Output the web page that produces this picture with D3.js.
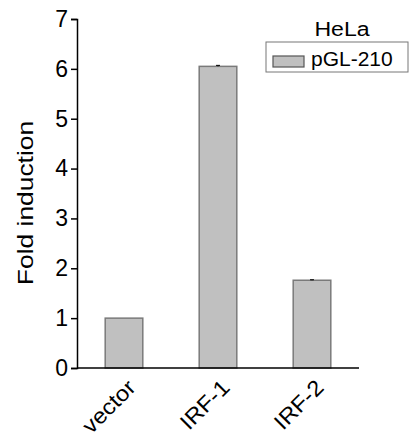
<!DOCTYPE html>
<html><head><meta charset="utf-8">
<script src="https://cdn.jsdelivr.net/npm/d3@7"></script>
<style>body{margin:0;background:#fff}svg{display:block;font-family:"Liberation Sans",Arial,sans-serif}</style>
</head><body><svg id="c" width="409" height="439"></svg>
<script>
const categories = ["vector", "IRF-1", "IRF-2"];
const values = [1.0, 6.05, 1.76];
const errors = [0.0, 0.02, 0.01];
const yTicks = [0, 1, 2, 3, 4, 5, 6, 7];
const legendTitle = "HeLa";
const seriesName = "pGL-210";
const yTitle = "Fold induction";

const FONT = "Liberation Sans, Arial, sans-serif";
const svg = d3.select("#c");
const x = d3.scaleBand().domain(categories).range([77, 359]).paddingInner(0.6).paddingOuter(0.3);
const y = d3.scaleLinear().domain([0, 7]).range([368, 19]);

// bars
svg.selectAll("rect.bar").data(values).join("rect")
  .attr("class", "bar")
  .attr("x", (d, i) => x(categories[i]))
  .attr("width", x.bandwidth())
  .attr("y", d => y(d))
  .attr("height", d => y(0) - y(d))
  .attr("fill", "#c0c0c0").attr("stroke", "#7a7a7a").attr("stroke-width", 1.5);

// error bars
svg.selectAll("g.err").data(values).join("g").attr("class", "err").each(function (d, i) {
  const cx = x(categories[i]) + x.bandwidth() / 2;
  const g = d3.select(this);
  if (errors[i] > 0) {
    g.append("line").attr("x1", cx).attr("x2", cx).attr("y1", y(d + errors[i])).attr("y2", y(d)).attr("stroke", "#000").attr("stroke-width", 1);
    g.append("line").attr("x1", cx - 2).attr("x2", cx + 2).attr("y1", y(d + errors[i])).attr("y2", y(d + errors[i])).attr("stroke", "#000").attr("stroke-width", 1);
  }
});

// y axis
const ya = svg.append("g").attr("transform", "translate(77,0)")
  .call(d3.axisLeft(y).tickValues(yTicks).tickFormat(d3.format("d")).tickSize(6).tickPadding(3));
ya.select(".domain").attr("stroke", "#000").attr("stroke-width", 1.5);
ya.selectAll(".tick line").attr("stroke", "#000").attr("stroke-width", 1.5);
ya.selectAll(".tick text").attr("font-size", 23).attr("fill", "#000").attr("font-family", FONT);

// x axis line
const xa = svg.append("g").attr("transform", "translate(0,368)")
  .call(d3.axisBottom(x).tickSize(0).tickPadding(0));
xa.select(".domain").attr("d", "M77,0H359").attr("stroke", "#000").attr("stroke-width", 1.5);
xa.selectAll(".tick text")
  .attr("font-size", 22).attr("fill", "#000").attr("font-family", FONT)
  .attr("text-anchor", "end").attr("dy", 0).attr("y", 0)
  .attr("transform", "translate(13,21) rotate(-45) scale(1.08,1)");

// y title
svg.append("text").attr("transform", "translate(33,203) rotate(-90) scale(1.2,1)")
  .attr("text-anchor", "middle").attr("font-size", 22).attr("fill", "#000").attr("font-family", FONT).text(yTitle);

// legend
svg.append("text").attr("transform", "translate(342,36) scale(1.1,1)").attr("text-anchor", "middle").attr("font-size", 21).attr("fill", "#000").attr("font-family", FONT).text(legendTitle);
svg.append("rect").attr("x", 266).attr("y", 42).attr("width", 142).attr("height", 30).attr("fill", "#fff").attr("stroke", "#777").attr("stroke-width", 1);
svg.append("rect").attr("x", 273).attr("y", 56).attr("width", 31).attr("height", 11).attr("fill", "#c0c0c0").attr("stroke", "#555").attr("stroke-width", 1.2);
svg.append("text").attr("transform", "translate(311,66)").attr("font-size", 21).attr("fill", "#000").attr("font-family", FONT).text(seriesName);
</script></body></html>
